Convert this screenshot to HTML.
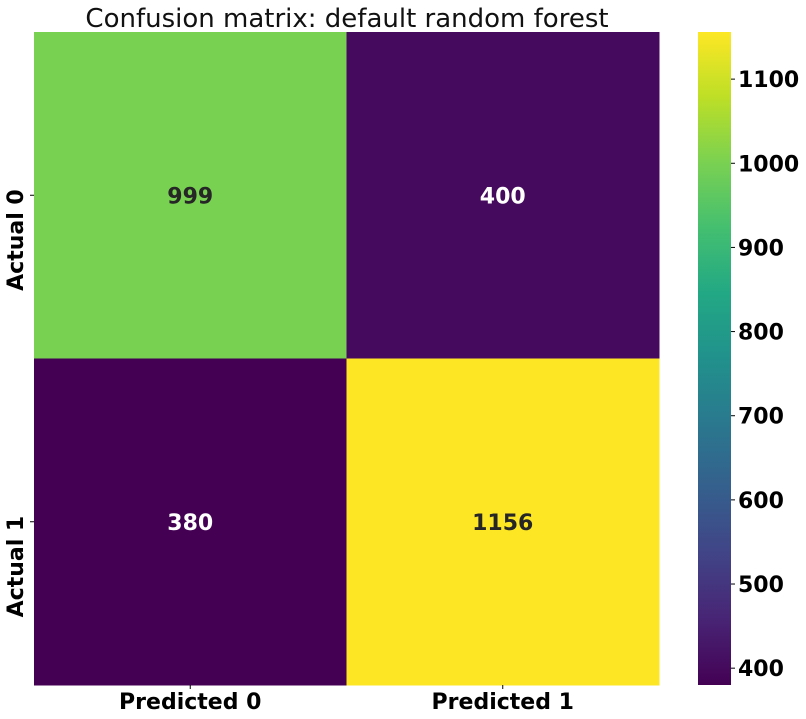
<!DOCTYPE html>
<html><head><meta charset="utf-8"><style>
html,body{margin:0;padding:0;background:#fff;}
svg{display:block;font-family:"DejaVu Sans","Liberation Sans",sans-serif;}
</style></head><body>
<svg id="chart" width="806" height="719">
<defs>
<linearGradient id="vir" x1="0" y1="1" x2="0" y2="0">
<stop offset="0" stop-color="#440154"/><stop offset="0.1" stop-color="#482475"/>
<stop offset="0.2" stop-color="#414487"/><stop offset="0.3" stop-color="#355f8d"/>
<stop offset="0.4" stop-color="#2a788e"/><stop offset="0.5" stop-color="#21918c"/>
<stop offset="0.6" stop-color="#22a884"/><stop offset="0.7" stop-color="#44bf70"/>
<stop offset="0.8" stop-color="#7ad151"/><stop offset="0.9" stop-color="#bddf26"/>
<stop offset="1" stop-color="#fde725"/>
</linearGradient>
</defs>
<text x="347" y="27" text-anchor="middle" font-size="26" fill="#111">Confusion matrix: default random forest</text>
<g id="cells"></g>
<rect x="698" y="32" width="33" height="653" fill="url(#vir)"/>
<g id="cbticks"></g>
</svg>
<script>
const rowLabels = ["Actual 0", "Actual 1"];
const colLabels = ["Predicted 0", "Predicted 1"];
const row0 = [999, 400];
const row1 = [380, 1156];
const cbTicks = [400, 500, 600, 700, 800, 900, 1000, 1100];

const values = [row0, row1];
const X0 = 34, X1 = 659, Y0 = 32, Y1 = 685;
const cw = (X1 - X0) / colLabels.length, ch = (Y1 - Y0) / rowLabels.length;
const flat = row0.concat(row1);
const vmin = Math.min(...flat), vmax = Math.max(...flat);
const stops = ["#440154","#482475","#414487","#355f8d","#2a788e","#21918c","#22a884","#44bf70","#7ad151","#bddf26","#fde725"];
function hex(h){return [1,3,5].map(i=>parseInt(h.substr(i,2),16));}
function viridis(t){
  t = Math.max(0, Math.min(1, t));
  const p = t * (stops.length - 1), i = Math.min(Math.floor(p), stops.length - 2), f = p - i;
  const a = hex(stops[i]), b = hex(stops[i+1]);
  return "rgb(" + a.map((v,k)=>Math.round(v + (b[k]-v)*f)).join(",") + ")";
}
function norm(v){return (v - vmin) / (vmax - vmin);}
function cbY(v){return Y1 - norm(v) * (Y1 - Y0);}
const NS = "http://www.w3.org/2000/svg";
const g = document.getElementById("cells");
function mk(tag, attrs, parent){const e=document.createElementNS(NS,tag);for(const k in attrs)e.setAttribute(k,attrs[k]);parent.appendChild(e);return e;}
values.forEach((row, r) => {
  row.forEach((v, c) => {
    const rect = mk("rect", {x: X0 + c*cw, y: Y0 + r*ch, width: cw + 0.5, height: ch + 0.5, fill: viridis(norm(v))}, g);
    
    
    const t = mk("text", {x: X0 + c*cw + cw/2, y: Y0 + r*ch + ch/2 + 8, "text-anchor": "middle", "font-size": "22", "font-weight": "bold", fill: norm(v) > 0.5 ? "#262626" : "#ffffff"}, g);
    t.textContent = v;
    
    
  });
});
colLabels.forEach((l, c) => {
  const x = X0 + c*cw + cw/2;
  const tk = mk("line", {x1: x, x2: x, y1: Y1, y2: Y1 + 4, stroke: "#000"}, g);
  
  
  const t = mk("text", {x: x, y: 709, "text-anchor": "middle", "font-size": "22", "font-weight": "bold", fill: "#000"}, g);
  t.textContent = l;
  
  
});
rowLabels.forEach((l, r) => {
  const y = Y0 + r*ch + ch/2 - 6;
  const ty = y + 6;
  const tk = mk("line", {x1: X0 - 4, x2: X0, y1: ty, y2: ty, stroke: "#000"}, g);
  
  
  const t = mk("text", {x: 23, y: y, "text-anchor": "end", "font-size": "22", "font-weight": "bold", fill: "#000", transform: "rotate(-90 23 " + y + ")"}, g);
  t.textContent = l;
  
  
});
const cb = document.getElementById("cbticks");
cbTicks.forEach(v => {
  const y = cbY(v);
  const tk = mk("line", {x1: 731, x2: 735, y1: y, y2: y, stroke: "#000"}, cb);
  
  
  const t = mk("text", {x: 738, y: y + 8, "font-size": "22", "font-weight": "bold", fill: "#000"}, cb);
  t.textContent = v;
  
  
});
</script>
</body></html>
